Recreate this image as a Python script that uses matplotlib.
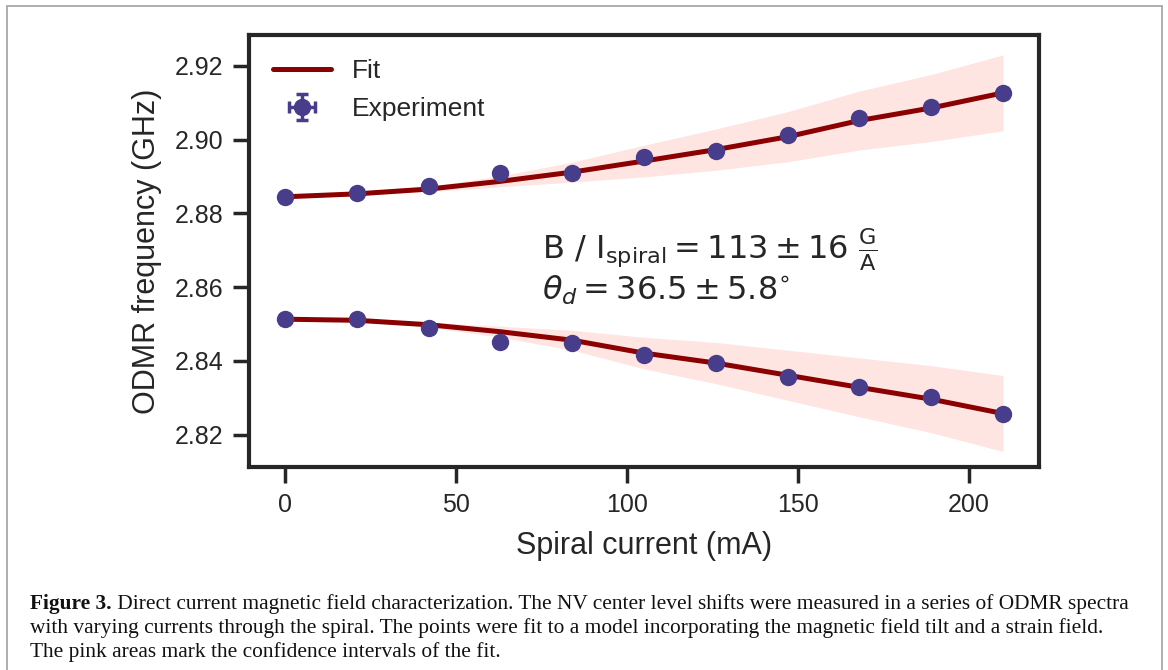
import matplotlib
matplotlib.use("Agg")
import matplotlib.pyplot as plt
from matplotlib.patches import Rectangle
import numpy as np

# ---- data ----
current_mA = [0, 21, 42, 63, 84, 105, 126, 147, 168, 189, 210]
upper_exp = [2.8845, 2.8855, 2.8874, 2.8909, 2.8910, 2.8952, 2.8969, 2.9013, 2.9058, 2.9090, 2.9127]
lower_exp = [2.8513, 2.8513, 2.8488, 2.8452, 2.8448, 2.8416, 2.8395, 2.8357, 2.8328, 2.8303, 2.8257]
upper_fit = [2.8845, 2.8853, 2.8866, 2.8887, 2.8912, 2.8942, 2.8973, 2.9008, 2.9052, 2.9086, 2.9127]
lower_fit = [2.8513, 2.8510, 2.8498, 2.8479, 2.8456, 2.8421, 2.8394, 2.8361, 2.8328, 2.8296, 2.8257]
fit_halfwidth = [0.0, 0.0002, 0.0007, 0.0015, 0.0027, 0.0043, 0.0056, 0.0068, 0.0080, 0.0091, 0.0103]
exp_xerr = [1.0] * len(current_mA)
exp_yerr = [0.0006] * len(current_mA)

x_ticks = [0, 50, 100, 150, 200]
y_ticks = [2.82, 2.84, 2.86, 2.88, 2.90, 2.92]

caption_bold = "Figure 3."
caption_lines = [
    " Direct current magnetic field characterization. The NV center level shifts were measured in a series of ODMR spectra",
    "with varying currents through the spiral. The points were fit to a model incorporating the magnetic field tilt and a strain field.",
    "The pink areas mark the confidence intervals of the fit.",
]

# ---- style ----
plt.rcParams["font.family"] = ["Liberation Sans", "DejaVu Sans"]
plt.rcParams["mathtext.fontset"] = "dejavusans"
dark = "#262626"
line_col = "#8B0000"
pt_col = "#483D8B"

W, H = 1168, 670
fig = plt.figure(figsize=(W / 100, H / 100), dpi=100)
ax = fig.add_axes([249 / W, 1 - 467 / H, (1039 - 249) / W, (467 - 35) / H])

x = np.array(current_mA)
uf = np.array(upper_fit)
lf = np.array(lower_fit)
hw = np.array(fit_halfwidth)

ax.fill_between(x, uf - hw, uf + hw, color="salmon", alpha=0.2, lw=0, zorder=1)
ax.fill_between(x, lf - hw, lf + hw, color="salmon", alpha=0.2, lw=0, zorder=1)
ax.plot(x, uf, color=line_col, lw=3.6, solid_capstyle="round", label="Fit", zorder=2)
ax.plot(x, lf, color=line_col, lw=3.6, solid_capstyle="round", zorder=2)

eb_kw = dict(fmt="o", color=pt_col, ms=11.5, ecolor=pt_col, elinewidth=2.5,
             capsize=4, capthick=2.5, zorder=3)
ax.errorbar(x, upper_exp, yerr=exp_yerr, xerr=exp_xerr, label="Experiment", **eb_kw)
ax.errorbar(x, lower_exp, yerr=exp_yerr, xerr=exp_xerr, **eb_kw)

ax.set_xlim(-10.5, 220.5)
ax.set_ylim(2.8112, 2.9284)
ax.set_xticks(x_ticks)
ax.set_yticks(y_ticks)
ax.set_yticklabels([f"{v:.2f}" for v in y_ticks])

for sp in ax.spines.values():
    sp.set_linewidth(3)
    sp.set_color(dark)
ax.tick_params(axis="both", which="major", length=11.5, width=2.5, color=dark,
               labelsize=18, labelcolor=dark, pad=7)

ax.set_xlabel("Spiral current (mA)", fontsize=22, color=dark)
ax.set_ylabel("ODMR frequency (GHz)", fontsize=22, color=dark)
ax.xaxis.set_label_coords(0.5, -(531 - 467) / 432)
ax.yaxis.set_label_coords(-(249 - 162) / 790, 0.5)

ax.text((542 - 249) / 790, (467 - 259) / 432,
        r"$\mathrm{B\ /\ I_{spiral}} = 113 \pm 16\ \frac{\mathrm{G}}{\mathrm{A}}$",
        transform=ax.transAxes, fontsize=23, color=dark, va="baseline", ha="left")
ax.text((542 - 249) / 790, (467 - 300) / 432,
        r"$\theta_d = 36.5 \pm 5.8^{\circ}$",
        transform=ax.transAxes, fontsize=23, color=dark, va="baseline", ha="left")

leg = ax.legend(loc="upper left", frameon=False, fontsize=19, handlelength=2.2,
                labelcolor=dark, labelspacing=0.55)

# ---- page border and caption ----
fig.add_artist(Rectangle((7 / W, -0.1), (1162 - 7) / W, 1.1 - 6 / H,
                         transform=fig.transFigure, fill=False,
                         edgecolor="#a8a8a8", lw=1.3, clip_on=False))

cap_size = 15.4
cap_font = ["Liberation Serif", "DejaVu Serif"]
baselines = [609, 633, 657]
x0 = 30 / W
bold = fig.text(x0, 1 - baselines[0] / H, caption_bold, fontsize=cap_size,
                family=cap_font, weight="bold", color="#111111", va="baseline")
fig.canvas.draw()
bb = bold.get_window_extent(renderer=fig.canvas.get_renderer())
fig.text(bb.x1 / W, 1 - baselines[0] / H, caption_lines[0], fontsize=cap_size,
         family=cap_font, color="#111111", va="baseline")
for line, yb in zip(caption_lines[1:], baselines[1:]):
    fig.text(x0, 1 - yb / H, line, fontsize=cap_size, family=cap_font,
             color="#111111", va="baseline")

fig.savefig("out.png", dpi=100)
